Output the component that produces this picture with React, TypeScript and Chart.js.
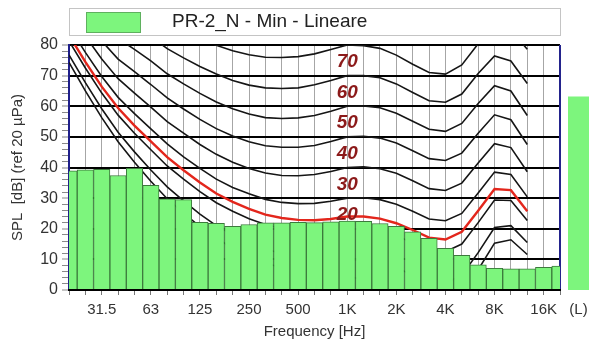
import React, { useEffect, useRef } from 'react';
import { Chart, registerables } from 'chart.js';

Chart.register(...registerables);

// ---------- data ----------
const bands = ['20', '25', '31.5', '40', '50', '63', '80', '100', '125', '160', '200', '250', '315', '400', '500', '630', '800', '1K', '1.25K', '1.6K', '2K', '2.5K', '3.15K', '4K', '5K', '6.3K', '8K', '10K', '12.5K', '16K', '20K'];
const shownTicks = ['31.5', '63', '125', '250', '500', '1K', '2K', '4K', '8K', '16K'];
const seriesName = 'PR-2_N - Min - Lineare';
const spl = [38.9, 39.2, 39.4, 37.4, 39.7, 34.2, 29.8, 29.5, 22.1, 21.8, 20.8, 21.4, 21.9, 21.9, 22.1, 22.0, 22.3, 22.5, 22.4, 21.7, 20.8, 19.0, 16.9, 13.6, 11.3, 8.2, 7.1, 6.9, 6.9, 7.4, 7.8];
const totalLabel = '(L)';
const totalValue = 63.1;

// equal-loudness contours, 20 Hz .. 12.5 kHz
const hearingThreshold = [74.3, 65.0, 56.3, 48.4, 41.7, 35.5, 29.8, 25.1, 20.7, 16.8, 13.8, 11.2, 8.9, 7.2, 6.0, 5.0, 4.4, 4.2, 3.7, 2.6, 1.0, -1.2, -3.6, -3.9, -1.1, 6.6, 15.3, 16.4, 11.6];
const phon10 = [76.8, 67.7, 59.2, 51.5, 45.1, 39.2, 33.7, 29.1, 24.8, 21.0, 18.1, 15.6, 13.4, 11.9, 10.9, 10.1, 9.9, 10.0, 9.7, 8.7, 7.2, 5.0, 2.6, 2.2, 4.8, 12.2, 20.4, 21.0, 15.5];
const phon20 = [81.3, 72.5, 64.3, 57.1, 51.2, 45.8, 40.5, 36.2, 32.1, 28.5, 25.7, 23.3, 21.4, 20.1, 19.4, 19.1, 19.4, 20.0, 19.9, 19.2, 17.7, 15.4, 13.0, 12.5, 15.0, 22.0, 29.4, 29.2, 22.7];
const phon30 = [86.0, 77.6, 69.7, 62.9, 57.6, 52.6, 47.7, 43.5, 39.7, 36.2, 33.5, 31.4, 29.6, 28.6, 28.2, 28.3, 29.0, 30.0, 30.1, 29.5, 28.0, 25.7, 23.2, 22.6, 25.0, 31.7, 38.5, 37.7, 30.4];
const phon40 = [91.0, 82.9, 75.4, 69.0, 64.3, 59.7, 55.0, 51.2, 47.5, 44.3, 41.7, 39.7, 38.2, 37.4, 37.3, 37.7, 38.7, 40.0, 40.2, 39.6, 38.1, 35.7, 33.1, 32.5, 34.9, 41.5, 47.8, 46.5, 38.6];
const phon50 = [96.2, 88.5, 81.3, 75.4, 71.3, 67.1, 62.7, 59.1, 55.7, 52.7, 50.3, 48.4, 47.1, 46.6, 46.6, 47.2, 48.5, 50.0, 50.2, 49.6, 48.0, 45.5, 42.9, 42.3, 44.7, 51.2, 57.2, 55.6, 47.5];
const phon60 = [101.7, 94.4, 87.6, 82.1, 78.6, 74.8, 70.6, 67.3, 64.2, 61.4, 59.2, 57.5, 56.3, 56.0, 56.2, 57.0, 58.4, 60.0, 60.1, 59.5, 57.7, 55.1, 52.5, 51.8, 54.4, 60.9, 66.7, 65.0, 57.0];
const phon70 = [107.6, 100.7, 94.3, 89.2, 86.4, 82.8, 78.8, 75.8, 73.0, 70.5, 68.4, 66.9, 66.0, 65.8, 66.0, 67.0, 68.4, 70.0, 70.0, 69.3, 67.3, 64.5, 61.8, 61.3, 64.0, 70.7, 76.4, 74.8, 67.4];
const phon80 = [113.7, 107.3, 101.3, 96.6, 94.6, 91.1, 87.4, 84.7, 82.2, 79.9, 78.1, 76.8, 76.0, 75.9, 76.2, 77.1, 78.5, 80.0, 79.8, 78.9, 76.7, 73.7, 71.0, 70.5, 73.5, 80.4, 86.3, 84.9, 78.6];
const minLoudness = [83.2, 74.5, 66.4, 59.4, 53.7, 48.5, 43.4, 39.1, 35.1, 31.5, 28.8, 26.5, 24.6, 23.5, 22.9, 22.8, 23.2, 24.0, 24.0, 23.3, 21.8, 19.6, 17.1, 16.5, 19.0, 25.9, 33.0, 32.6, 25.7];
const contourLabels = [70, 60, 50, 40, 30, 20];
const labelBand = '1K';

// ---------- styles ----------
const FONT = '"Liberation Sans", Arial, Helvetica, sans-serif';
const GREEN = 'rgb(125, 245, 125)';
const TEXT = '#333333';

const framePlugin = {
  id: 'frameRight',
  beforeDatasetsDraw(chart: any) {
    const { ctx, chartArea } = chart;
    ctx.save();
    ctx.strokeStyle = '#23238c';
    ctx.lineWidth = 2;
    ctx.beginPath();
    ctx.moveTo(chartArea.right, chartArea.top);
    ctx.lineTo(chartArea.right, chartArea.bottom);
    ctx.stroke();
    ctx.restore();
  },
};

const contourLabelPlugin = {
  id: 'contourLabels',
  afterDatasetsDraw(chart: any) {
    const { ctx } = chart;
    const xs = chart.scales.x;
    const ys = chart.scales.y;
    const x = xs.getPixelForValue(bands.indexOf(labelBand));
    ctx.save();
    ctx.fillStyle = '#8c1a1a';
    ctx.font = 'italic bold 19px ' + FONT;
    ctx.textAlign = 'center';
    ctx.textBaseline = 'middle';
    contourLabels.forEach((v) => {
      ctx.fillText(String(v), x, ys.getPixelForValue(v + 4.5));
    });
    ctx.restore();
  },
};

const boxLegendPlugin = {
  id: 'boxLegend',
  afterDraw(chart: any) {
    const { ctx, chartArea } = chart;
    ctx.save();
    ctx.strokeStyle = '#c4c4c4';
    ctx.lineWidth = 1;
    ctx.strokeRect(chartArea.left + 0.5, 8.5, chartArea.right - chartArea.left, 27);
    ctx.fillStyle = GREEN;
    ctx.fillRect(86, 12, 55, 21);
    ctx.strokeStyle = '#5fb05f';
    ctx.strokeRect(86.5, 12.5, 54, 20);
    ctx.fillStyle = '#222222';
    ctx.font = '19px ' + FONT;
    ctx.textAlign = 'left';
    ctx.textBaseline = 'middle';
    ctx.fillText(seriesName, 172, 22);
    ctx.restore();
  },
};

export default function App() {
  const mainRef = useRef<HTMLCanvasElement>(null);
  const sideRef = useRef<HTMLCanvasElement>(null);

  useEffect(() => {
    const contours = [phon80, phon70, phon60, phon50, phon40, phon30, phon20, phon10, hearingThreshold];
    const main = new Chart(mainRef.current as HTMLCanvasElement, {
      type: 'bar',
      data: {
        labels: bands,
        datasets: [
          {
            type: 'bar',
            label: seriesName,
            data: spl,
            backgroundColor: GREEN,
            borderColor: '#3c7a3c',
            borderWidth: { top: 1, left: 1, right: 1, bottom: 0 },
            barPercentage: 1,
            categoryPercentage: 1,
            order: 0,
            clip: 0,
          } as any,
          {
            type: 'line',
            label: 'min',
            data: minLoudness,
            borderColor: '#e3261c',
            borderWidth: 2.4,
            pointRadius: 0,
            tension: 0,
            order: 1,
            clip: 0,
          } as any,
          ...contours.map((c, i) => ({
            type: 'line',
            label: 'c' + i,
            data: c,
            borderColor: '#151515',
            borderWidth: 1.6,
            pointRadius: 0,
            tension: 0,
            order: 2,
            clip: 0,
          } as any)),
        ],
      },
      options: {
        animation: false,
        responsive: true,
        maintainAspectRatio: false,
        layout: { padding: { top: 45, right: 29, left: 0, bottom: 0 } },
        plugins: { legend: { display: false }, tooltip: { enabled: false } },
        scales: {
          x: {
            type: 'category',
            offset: false,
            grid: { offset: false, color: '#a6a6a6', lineWidth: 1, tickColor: '#777', tickLength: 5, z: -1 },
            border: { color: '#000', width: 2, z: 1 },
            ticks: {
              autoSkip: false,
              maxRotation: 0,
              minRotation: 0,
              padding: 6,
              color: TEXT,
              font: { family: FONT, size: 15 },
              callback: (_v: any, i: number) => (shownTicks.includes(bands[i]) ? bands[i] : ''),
            },
            title: { display: true, text: 'Frequency [Hz]', color: TEXT, font: { family: FONT, size: 15 }, padding: { top: 0, bottom: 1 } },
            afterFit: (s: any) => { s.height = 52; },
          },
          y: {
            min: 0,
            max: 80,
            ticks: {
              stepSize: 2,
              maxTicksLimit: 60,
              autoSkip: false,
              padding: 4,
              color: TEXT,
              font: { family: FONT, size: 16 },
              callback: (v: any) => (Number(v) % 10 === 0 ? String(v) : ''),
            },
            grid: {
              color: (c: any) => (c.tick && c.tick.value % 10 === 0 ? '#000' : 'rgba(0,0,0,0)'),
              lineWidth: (c: any) => (c.tick && c.tick.value % 10 === 0 ? 2 : 1),
              tickColor: '#8a8a8a',
              tickWidth: 1,
              tickLength: 7,
            },
            border: { color: '#1f1f8a', width: 2 },
            title: { display: true, text: 'SPL  [dB] (ref 20 µPa)', color: TEXT, font: { family: FONT, size: 15 }, padding: { top: 9, bottom: 0 } },
            afterFit: (s: any) => { s.width = 69; },
          },
        },
      } as any,
      plugins: [framePlugin, contourLabelPlugin, boxLegendPlugin],
    });

    const side = new Chart(sideRef.current as HTMLCanvasElement, {
      type: 'bar',
      data: {
        labels: [totalLabel],
        datasets: [{ data: [totalValue], backgroundColor: GREEN, borderWidth: 0, barPercentage: 1, categoryPercentage: 1 }],
      },
      options: {
        animation: false,
        responsive: true,
        maintainAspectRatio: false,
        layout: { padding: { top: 45, right: 0, left: 0, bottom: 0 } },
        plugins: { legend: { display: false }, tooltip: { enabled: false } },
        scales: {
          x: {
            grid: { display: false, drawTicks: true, tickLength: 11 },
            border: { display: false },
            ticks: { autoSkip: false, maxRotation: 0, minRotation: 0, padding: 0, color: TEXT, font: { family: FONT, size: 15 } },
            afterFit: (s: any) => { s.height = 52; },
          },
          y: { display: false, min: 0, max: 80 },
        },
      } as any,
    });

    return () => {
      main.destroy();
      side.destroy();
    };
  }, []);

  return (
    <div style={{ position: 'fixed', left: 0, top: 0, width: 589, height: 342, background: '#fff' }}>
      <div style={{ position: 'absolute', left: 0, top: 0, width: 589, height: 342 }}>
        <canvas ref={mainRef} />
      </div>
      <div style={{ position: 'absolute', left: 568, top: 0, width: 21, height: 342 }}>
        <canvas ref={sideRef} />
      </div>
    </div>
  );
}
